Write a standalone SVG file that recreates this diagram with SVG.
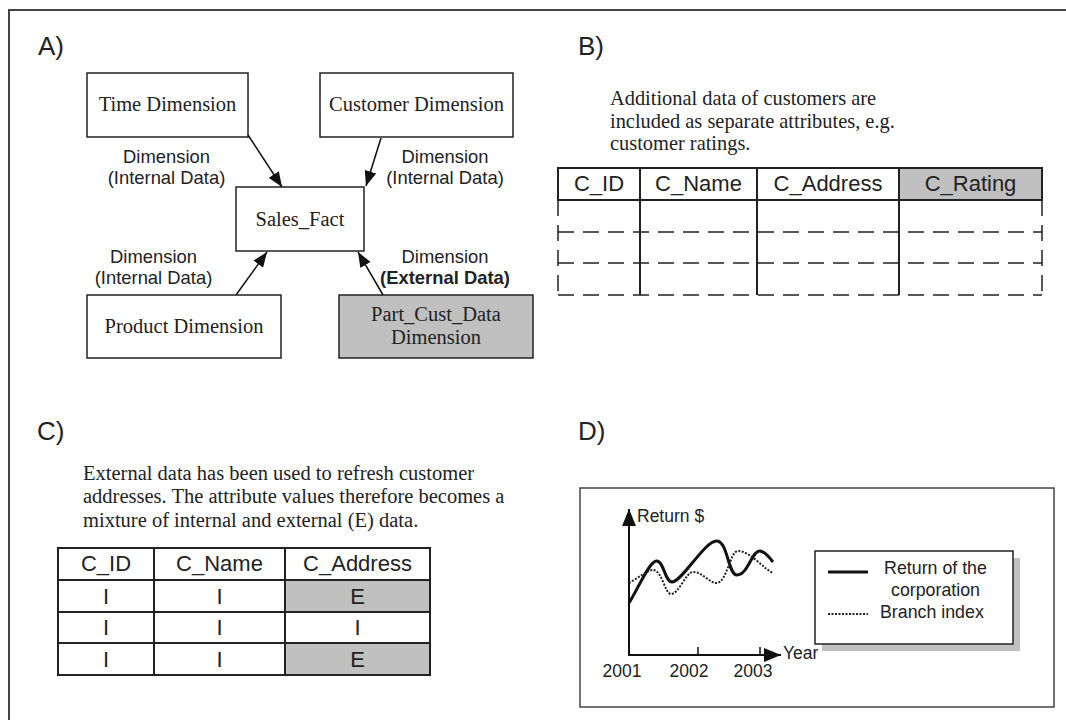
<svg xmlns="http://www.w3.org/2000/svg" width="1066" height="720" viewBox="0 0 1066 720">
<style>
.sans{font-family:"Liberation Sans",Arial,sans-serif;fill:#222}
.serif{font-family:"Liberation Serif","Times New Roman",serif;fill:#222}
.node{fill:#fff;stroke:#222;stroke-width:1.5}
.gray{fill:#c0c0c0}
.lbl{font-size:18.4px}
.nl{font-size:20.5px}
.hdr{font-size:22px}
.conn{stroke:#111;stroke-width:1.5;fill:none}
.tb{stroke:#222;stroke-width:2;fill:none}
.dash{stroke:#222;stroke-width:1.5;fill:none;stroke-dasharray:16,9}
</style>
<defs>
<marker id="ah" markerUnits="userSpaceOnUse" markerWidth="16" markerHeight="12" refX="15" refY="6" orient="auto">
<path d="M0,0 L15,6 L0,12 Z" fill="#111"/>
</marker>
<marker id="ax" markerUnits="userSpaceOnUse" markerWidth="18" markerHeight="14" refX="17" refY="7" orient="auto">
<path d="M0,0 L17,7 L0,14 Z" fill="#111"/>
</marker>
</defs>
<rect width="1066" height="720" fill="#fff"/>
<g id="frame">
<line x1="8" y1="10" x2="1066" y2="10" stroke="#444" stroke-width="2"/>
<line x1="9" y1="10" x2="9" y2="720" stroke="#444" stroke-width="2"/>
</g>
<g id="panel-labels" class="sans" font-size="26">
<text x="38" y="55">A)</text>
<text x="578" y="55">B)</text>
<text x="37" y="440">C)</text>
<text x="578" y="440">D)</text>
</g>
<!-- Panel A -->
<g id="time-dimension">
<rect class="node" x="87" y="73" width="161" height="64"/>
<text class="serif nl" x="167.5" y="111" text-anchor="middle">Time Dimension</text>
</g>
<g id="customer-dimension">
<rect class="node" x="320" y="73" width="193" height="64"/>
<text class="serif nl" x="416.5" y="111" text-anchor="middle">Customer Dimension</text>
</g>
<g id="sales-fact">
<rect class="node" x="236" y="187" width="128" height="64"/>
<text class="serif nl" x="300" y="226" text-anchor="middle">Sales_Fact</text>
</g>
<g id="product-dimension">
<rect class="node" x="87" y="295" width="194" height="63"/>
<text class="serif nl" x="184" y="333" text-anchor="middle">Product Dimension</text>
</g>
<g id="part-cust-data-dimension">
<rect class="node gray" x="339" y="295" width="194" height="63"/>
<text class="serif nl" x="436" y="321" text-anchor="middle">Part_Cust_Data</text>
<text class="serif nl" x="436" y="344" text-anchor="middle">Dimension</text>
</g>
<g id="connectors">
<line class="conn" x1="248" y1="135" x2="282" y2="187" marker-end="url(#ah)"/>
<line class="conn" x1="381" y1="138" x2="366" y2="186" marker-end="url(#ah)"/>
<line class="conn" x1="236" y1="295" x2="267" y2="252" marker-end="url(#ah)"/>
<line class="conn" x1="383" y1="295" x2="358" y2="252" marker-end="url(#ah)"/>
</g>
<g id="connector-labels" class="sans lbl" text-anchor="middle">
<text x="166.5" y="163">Dimension</text>
<text x="166.5" y="184">(Internal Data)</text>
<text x="445" y="163">Dimension</text>
<text x="445" y="184">(Internal Data)</text>
<text x="153.5" y="263">Dimension</text>
<text x="153.5" y="284">(Internal Data)</text>
<text x="445" y="263">Dimension</text>
<text x="445" y="284" font-weight="bold">(External Data)</text>
</g>
<!-- Panel B -->
<g id="b-text" class="serif" font-size="20.4">
<text x="610" y="105">Additional data of customers are</text>
<text x="610" y="128">included as separate attributes, e.g.</text>
<text x="610" y="150">customer ratings.</text>
</g>
<g id="b-table">
<rect x="899" y="168" width="143" height="32" class="gray"/>
<rect x="558" y="168" width="484" height="32" class="tb"/>
<line class="tb" x1="640" y1="168" x2="640" y2="295"/>
<line class="tb" x1="757" y1="168" x2="757" y2="295"/>
<line class="tb" x1="899" y1="168" x2="899" y2="295"/>
<line class="dash" x1="558" y1="200" x2="558" y2="295"/>
<line class="dash" x1="1042" y1="200" x2="1042" y2="295"/>
<line class="dash" x1="558" y1="232" x2="1042" y2="232"/>
<line class="dash" x1="558" y1="263" x2="1042" y2="263"/>
<line class="dash" x1="558" y1="295" x2="1042" y2="295"/>
<g class="sans hdr" text-anchor="middle">
<text x="599" y="191">C_ID</text>
<text x="698.5" y="191">C_Name</text>
<text x="828" y="191">C_Address</text>
<text x="970.5" y="191">C_Rating</text>
</g>
</g>
<!-- Panel C -->
<g id="c-text" class="serif" font-size="20.5">
<text x="83" y="480">External data has been used to refresh customer</text>
<text x="83" y="503">addresses. The attribute values therefore becomes a</text>
<text x="83" y="527">mixture of internal and external (E) data.</text>
</g>
<g id="c-table">
<rect x="285" y="580" width="145" height="32" class="gray"/>
<rect x="285" y="643" width="145" height="32" class="gray"/>
<rect x="58" y="548" width="372" height="127" class="tb"/>
<line class="tb" x1="58" y1="580" x2="430" y2="580"/>
<line class="tb" x1="58" y1="612" x2="430" y2="612"/>
<line class="tb" x1="58" y1="643" x2="430" y2="643"/>
<line class="tb" x1="154" y1="548" x2="154" y2="675"/>
<line class="tb" x1="285" y1="548" x2="285" y2="675" stroke-width="3"/>
<g class="sans hdr" text-anchor="middle">
<text x="106" y="571">C_ID</text>
<text x="219.5" y="571">C_Name</text>
<text x="357.5" y="571">C_Address</text>
<text x="106" y="604">I</text>
<text x="219.5" y="604">I</text>
<text x="357.5" y="604">E</text>
<text x="106" y="635">I</text>
<text x="219.5" y="635">I</text>
<text x="357.5" y="635">I</text>
<text x="106" y="667">I</text>
<text x="219.5" y="667">I</text>
<text x="357.5" y="667">E</text>
</g>
</g>
<!-- Panel D -->
<g id="d-chart">
<rect x="580" y="488" width="474" height="219" fill="#fff" stroke="#444" stroke-width="1.5"/>
<line x1="629" y1="656" x2="629" y2="509" stroke="#111" stroke-width="2" marker-end="url(#ax)"/>
<line x1="629" y1="655" x2="781" y2="655" stroke="#111" stroke-width="2" marker-end="url(#ax)"/>
<line x1="698" y1="655" x2="698" y2="647" stroke="#111" stroke-width="1.5"/>
<line x1="760" y1="655" x2="760" y2="647" stroke="#111" stroke-width="1.5"/>
<path d="M629,603 C640,585 650,560 657,561 C664,562 665,582 672,582 C682,582 705,540 717,541 C728,542 728,575 737,575 C748,575 752,550 760,551 C766,552 770,558 773,562" fill="none" stroke="#111" stroke-width="3"/>
<path d="M629,583 C638,578 648,570 653,570 C662,570 665,594 671,594 C679,594 686,572 693,572 C703,572 710,584 717,583 C727,582 730,551 738,551 C750,551 765,570 773,573" fill="none" stroke="#222" stroke-width="2" stroke-dasharray="2,1.5"/>
<g class="sans" font-size="17.5">
<text x="637" y="522">Return $</text>
<text x="783" y="659">Year</text>
<text x="622" y="677" text-anchor="middle">2001</text>
<text x="689" y="677" text-anchor="middle">2002</text>
<text x="753" y="677" text-anchor="middle">2003</text>
</g>
</g>
<g id="d-legend">
<rect x="822" y="558" width="198" height="93" fill="#c0c0c0"/>
<rect x="815" y="551" width="198" height="93" fill="#fff" stroke="#222" stroke-width="1.5"/>
<line x1="828" y1="572" x2="868" y2="572" stroke="#111" stroke-width="3"/>
<line x1="828" y1="614" x2="868" y2="614" stroke="#222" stroke-width="2" stroke-dasharray="2,1.5"/>
<g class="sans" font-size="17.8">
<text x="935.5" y="574" text-anchor="middle">Return of the</text>
<text x="935.5" y="596" text-anchor="middle">corporation</text>
<text x="880" y="618">Branch index</text>
</g>
</g>
</svg>
